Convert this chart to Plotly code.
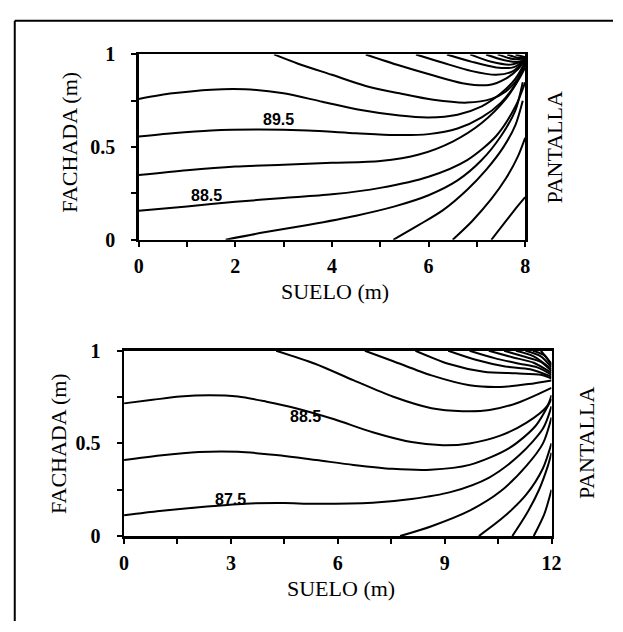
import plotly.graph_objects as go

# ---------------- data ----------------
# Top panel: ground 0-8 m, facade 0-1 m
top_levels = [86.5, 87.0, 87.5, 88.0, 88.5, 89.0, 89.5, 90.0, 90.5, 91.0, 91.5, 92.0, 92.5, 93.0, 93.5, 94.0, 94.5]
top_x = [
    [7.3, 7.6, 7.84, 8.0],
    [6.5, 6.9, 7.3, 7.6, 7.85, 8.0],
    [5.27, 5.8, 6.3, 6.8, 7.2, 7.55, 7.8, 7.95],
    [1.8, 2.6, 3.5, 4.5, 5.3, 6.0, 6.6, 7.1, 7.5, 7.8, 7.95],
    [0, 1, 2, 3, 4, 5, 6, 6.8, 7.4, 7.8, 8.0],
    [0, 1, 2, 3, 4, 5, 5.8, 6.5, 7.1, 7.6, 7.9, 8.0],
    [0, 0.7, 1.5, 2.5, 3.5, 4.5, 5.3, 6.0, 6.6, 7.1, 7.5, 7.8, 8.0],
    [0, 0.7, 1.5, 2.2, 3, 3.8, 4.6, 5.4, 6.0, 6.6, 7.1, 7.5, 7.8, 8.0],
    [2.8, 3.3, 4.0, 4.7, 5.4, 6.1, 6.8, 7.3, 7.6, 7.85, 8.0],
    [4.7, 5.4, 6.05, 6.7, 7.25, 7.6, 7.85, 8.0],
    [5.74, 6.3, 6.9, 7.4, 7.75, 8.0],
    [6.38, 6.9, 7.4, 7.75, 8.0],
    [6.86, 7.3, 7.7, 8.0],
    [7.19, 7.55, 7.85, 8.0],
    [7.43, 7.75, 8.0],
    [7.63, 7.85, 8.0],
    [7.8, 8.0],
]
top_y = [
    [0, 0.1, 0.18, 0.23],
    [0, 0.1, 0.22, 0.33, 0.45, 0.55],
    [0, 0.08, 0.16, 0.27, 0.38, 0.5, 0.62, 0.75],
    [0, 0.04, 0.08, 0.13, 0.18, 0.24, 0.32, 0.43, 0.56, 0.7, 0.85],
    [0.156, 0.18, 0.205, 0.225, 0.245, 0.28, 0.34, 0.43, 0.56, 0.72, 0.85],
    [0.349, 0.375, 0.395, 0.405, 0.415, 0.425, 0.46, 0.53, 0.63, 0.76, 0.88, 0.93],
    [0.557, 0.575, 0.59, 0.595, 0.59, 0.575, 0.565, 0.57, 0.6, 0.66, 0.74, 0.84, 0.95],
    [0.76, 0.79, 0.81, 0.812, 0.79, 0.745, 0.70, 0.67, 0.66, 0.675, 0.72, 0.79, 0.87, 0.96],
    [1.0, 0.95, 0.89, 0.83, 0.79, 0.755, 0.74, 0.76, 0.8, 0.87, 0.96],
    [1.0, 0.94, 0.89, 0.845, 0.835, 0.87, 0.92, 0.97],
    [1.0, 0.955, 0.91, 0.89, 0.91, 0.97],
    [1.0, 0.96, 0.93, 0.93, 0.97],
    [1.0, 0.96, 0.945, 0.97],
    [1.0, 0.97, 0.96, 0.975],
    [1.0, 0.975, 0.978],
    [1.0, 0.982, 0.98],
    [1.0, 0.985],
]
top_labels = ["88.5", "89.5"]
top_label_x = [1.4, 2.9]
top_label_y = [0.24, 0.65]

# Bottom panel: ground 0-12 m, facade 0-1 m
bot_levels = [85.5, 86.0, 86.5, 87.0, 87.5, 88.0, 88.5, 89.0, 89.5, 90.0, 90.5, 91.0, 91.5, 92.0, 92.5, 93.0, 93.5, 94.0]
bot_x = [
    [11.5, 11.8, 12],
    [10.9, 11.3, 11.65, 11.9, 12],
    [9.96, 10.67, 11.3, 11.76, 12],
    [7.75, 8.63, 9.7, 10.56, 11.3, 11.76, 12],
    [0, 1, 2.1, 3.4, 4.5, 5.35, 6.98, 8.07, 9.16, 10.25, 11.1, 11.76, 12],
    [0, 1, 2.1, 3.2, 4.27, 5.4, 6.44, 7.53, 8.6, 9.7, 10.8, 11.55, 12],
    [0, 0.8, 1.57, 2.4, 3.2, 4.0, 4.82, 5.9, 6.98, 8.07, 8.95, 9.7, 10.56, 11.3, 11.87, 12],
    [4.27, 5.36, 6.45, 7.54, 8.63, 9.5, 10.26, 11.02, 11.67, 12],
    [6.76, 7.54, 8.63, 9.7, 10.57, 11.35, 12],
    [8.18, 9.1, 10.1, 11.0, 11.7, 12],
    [9.1, 9.9, 10.7, 11.4, 12],
    [9.7, 10.4, 11.1, 11.6, 12],
    [10.24, 10.9, 11.5, 12],
    [10.67, 11.2, 11.7, 12],
    [11.0, 11.5, 12],
    [11.27, 11.7, 12],
    [11.48, 11.8, 12],
    [11.7, 12],
]
bot_y = [
    [0, 0.12, 0.25],
    [0, 0.12, 0.25, 0.38, 0.45],
    [0, 0.105, 0.226, 0.366, 0.5],
    [0, 0.053, 0.137, 0.24, 0.38, 0.5, 0.64],
    [0.112, 0.135, 0.156, 0.175, 0.178, 0.174, 0.18, 0.2, 0.237, 0.316, 0.437, 0.58, 0.7],
    [0.41, 0.435, 0.454, 0.455, 0.437, 0.41, 0.384, 0.363, 0.358, 0.384, 0.473, 0.594, 0.74],
    [0.716, 0.735, 0.753, 0.76, 0.753, 0.725, 0.69, 0.63, 0.56, 0.507, 0.49, 0.5, 0.542, 0.612, 0.7, 0.76],
    [1.0, 0.93, 0.84, 0.753, 0.69, 0.674, 0.68, 0.717, 0.77, 0.8],
    [1.0, 0.945, 0.867, 0.814, 0.805, 0.82, 0.84],
    [1.0, 0.93, 0.887, 0.878, 0.87, 0.85],
    [1.0, 0.95, 0.915, 0.9, 0.86],
    [1.0, 0.96, 0.93, 0.91, 0.87],
    [1.0, 0.965, 0.935, 0.88],
    [1.0, 0.97, 0.94, 0.89],
    [1.0, 0.97, 0.9],
    [1.0, 0.97, 0.91],
    [1.0, 0.975, 0.92],
    [1.0, 0.93],
]
bot_labels = ["88.5", "87.5"]
bot_label_x = [5.1, 3.0]
bot_label_y = [0.645, 0.195]

top_xticks = [0, 1, 2, 3, 4, 5, 6, 7, 8]
top_xticktext = ["0", "", "2", "", "4", "", "6", "", "8"]
bot_xticks = [0, 1.5, 3, 4.5, 6, 7.5, 9, 10.5, 12]
bot_xticktext = ["0", "", "3", "", "6", "", "9", "", "12"]
yticks = [0, 0.25, 0.5, 0.75, 1]
yticktext = ["0", "", "0.5", "", "1"]

x_title = "SUELO (m)"
y_title = "FACHADA (m)"
right_title = "PANTALLA"

# ---------------- figure ----------------
W, H = 623, 632
SERIF = "Liberation Serif, Times New Roman, serif"
SANS = "Liberation Sans, Arial, sans-serif"

fig = go.Figure()

for xs, ys in zip(top_x, top_y):
    fig.add_trace(go.Scatter(x=xs, y=ys, mode="lines", xaxis="x", yaxis="y",
                             line=dict(color="black", width=2, shape="spline", smoothing=0.8),
                             hoverinfo="skip", showlegend=False))
for xs, ys in zip(bot_x, bot_y):
    fig.add_trace(go.Scatter(x=xs, y=ys, mode="lines", xaxis="x2", yaxis="y2",
                             line=dict(color="black", width=2, shape="spline", smoothing=0.8),
                             hoverinfo="skip", showlegend=False))


def px(v):
    return v / W


def py(v):
    return 1 - v / H


top_dom_x = [px(137), px(533)]
top_dom_y = [py(237), py(45)]
bot_dom_x = [px(122), px(560)]
bot_dom_y = [py(544), py(352)]

axis_common = dict(showgrid=False, zeroline=False, showline=True, linecolor="black",
                   linewidth=2.5, mirror=True, ticks="outside", ticklen=5, tickwidth=2,
                   tickcolor="black",
                   tickfont=dict(family=SERIF, size=20, color="black", weight="bold"))

fig.update_layout(
    width=W, height=H,
    margin=dict(l=0, r=0, t=0, b=0),
    paper_bgcolor="white", plot_bgcolor="white",
    showlegend=False,
    xaxis=dict(domain=top_dom_x, range=[0, 8], tickvals=top_xticks, ticktext=top_xticktext,
               anchor="y", ticklabelstandoff=2, **axis_common),
    yaxis=dict(domain=top_dom_y, range=[0, 1], tickvals=yticks, ticktext=yticktext,
               anchor="x", ticklabelstandoff=12, **axis_common),
    xaxis2=dict(domain=bot_dom_x, range=[0, 12], tickvals=bot_xticks, ticktext=bot_xticktext,
                anchor="y2", ticklabelstandoff=2, **axis_common),
    yaxis2=dict(domain=bot_dom_y, range=[0, 1], tickvals=yticks, ticktext=yticktext,
                anchor="x2", ticklabelstandoff=12, **axis_common),
)

annotations = []
lab_font = dict(family=SANS, size=16, color="black", weight="bold")
for t, x, y in zip(top_labels, top_label_x, top_label_y):
    annotations.append(dict(x=x, y=y, xref="x", yref="y", text=t, showarrow=False,
                            xanchor="center", yanchor="middle", font=lab_font))
for t, x, y in zip(bot_labels, bot_label_x, bot_label_y):
    annotations.append(dict(x=x, y=y, xref="x2", yref="y2", text=t, showarrow=False,
                            xanchor="center", yanchor="middle", font=lab_font))

title_font = dict(family=SERIF, size=22, color="black")


def title(text, x, y, angle=0):
    return dict(x=px(x), y=py(y), xref="paper", yref="paper", text=text, showarrow=False,
                xanchor="center", yanchor="middle", textangle=angle, font=title_font)


annotations += [
    title(x_title, 338, 291),
    title(x_title, 344, 598),
    title(y_title, 66, 136, -90),
    title(y_title, 55, 448, -90),
    title(right_title, 563, 141, -90),
    title(right_title, 596, 448, -90),
]
fig.update_layout(annotations=annotations)

# outer frame (left and top edges visible in the scan)
fig.add_shape(type="line", xref="paper", yref="paper", x0=px(10), x1=px(10), y0=py(10), y1=0,
              line=dict(color="black", width=2))
fig.add_shape(type="line", xref="paper", yref="paper", x0=px(10), x1=1, y0=py(10), y1=py(10),
              line=dict(color="black", width=2))

fig.write_html("out.html", config={"displayModeBar": False, "staticPlot": True},
               post_script="document.body.style.margin='0';document.body.style.overflow='hidden';")
